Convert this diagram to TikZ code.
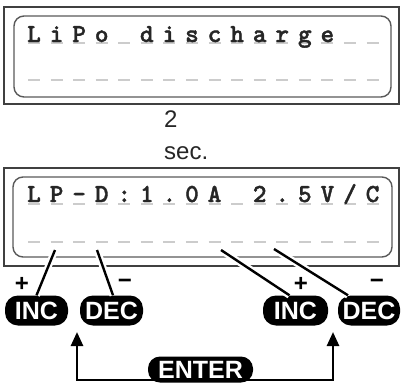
\documentclass[tikz,border=0pt]{standalone}
\usepackage{fontspec}
\setmainfont{Liberation Sans}
\newfontfamily\lcdfont{lmmonolt10-bold.otf}[FakeBold=1.5]
\newfontfamily\btnfont{Liberation Sans Bold}
\usetikzlibrary{arrows.meta}
\begin{document}
\begin{tikzpicture}[x=1pt,y=-1pt,
  frame/.style={draw=black!75, line width=1.1pt},
  lcd/.style={draw=black!65, line width=1.4pt, rounded corners=10pt},
  cell/.style={draw=black!20, line width=1.3pt},
  ch/.style={anchor=base, inner sep=0pt, font=\lcdfont\fontsize{26}{26}\selectfont, text=black!85},
  pill/.style={fill=black, rounded corners=13pt, text=white, font=\btnfont\fontsize{25}{25}\selectfont, minimum height=30pt, inner sep=0pt},
  sign/.style={font=\btnfont\fontsize{24}{24}\selectfont, inner sep=0pt},
  plain/.style={font=\fontsize{24}{24}\selectfont, inner sep=0pt, anchor=base west, text=black!85},
  conn/.style={line width=2.4pt},
  halo/.style={white, line width=7pt},
  arr/.style={line width=2.6pt, -{Triangle[length=14pt,width=12pt]}}
]
\useasboundingbox (0,0) rectangle (401,383);

% panel 1
\draw[frame] (4,7) rectangle (399,104);
\draw[lcd] (14,16) rectangle (391,97);
\foreach \k in {0,...,15} {
  \draw[cell] ({28+22.57*\k},43) -- ++(12,0);
  \draw[cell] ({28+22.57*\k},80) -- ++(12,0);
}
\foreach \c [count=\i from 0] in {L,i,P,o,{},d,i,s,c,h,a,r,g,e,{},{}} {
  \node[ch] (a\i) at ({34+22.57*\i},42) {\c};
}

% 2 sec.
\node[plain] (two) at (164,127) {2};
\node[plain] (sec) at (164,159) {sec.};

% panel 2
\draw[frame] (4,168) rectangle (399,266);
\draw[lcd] (13,177) rectangle (392,257);
\foreach \k in {0,...,15} {
  \draw[cell] ({28+22.57*\k},204) -- ++(12,0);
  \draw[cell] ({28+22.57*\k},242) -- ++(12,0);
}
\foreach \c [count=\i from 0] in {L,P,-,D,:,1,.,0,A,{},2,.,5,V,/,C} {
  \node[ch] (b\i) at ({34+22.57*\i},202) {\c};
}

% buttons
\node[pill, minimum width=63pt] (incL) at (36.5,310.5) {INC};
\node[pill, minimum width=63pt] (decL) at (111.5,310.5) {DEC};
\node[pill, minimum width=65pt] (incR) at (295.5,310.5) {INC};
\node[pill, minimum width=62pt] (decR) at (369,310.5) {DEC};

\node[sign] (pL) at (22,284) {+};
\node[sign] (mL) at (125,284) {−};
\node[sign] (pR) at (301,284) {+};
\node[sign] (mR) at (377,284) {−};

% connectors
\coordinate (l1) at (55,250);
\coordinate (l2) at (97,250);
\coordinate (l3) at (221,250);
\coordinate (l4) at (274,249);
\draw[halo] (l1) -- (incL.north);
\draw[halo] (l2) -- ([xshift=1.5pt]decL.north);
\draw[halo] (l3) -- ([xshift=-6pt]incR.north);
\draw[halo] (l4) -- ([xshift=-21pt]decR.north);
\draw[conn] (l1) -- (incL.north);
\draw[conn] (l2) -- ([xshift=1.5pt]decL.north);
\draw[conn] (l3) -- ([xshift=-6pt]incR.north);
\draw[conn] (l4) -- ([xshift=-21pt]decR.north);

% enter arrows
\coordinate (aL) at (77,332);
\coordinate (aR) at (333,332);
\coordinate (bM) at (200.5,380);
\draw[arr] (bM) -| (aL);
\draw[arr] (bM) -| (aR);
\node[pill, minimum width=105pt, minimum height=26pt, rounded corners=12pt] (enter) at (200.5,369.5) {ENTER};
\end{tikzpicture}
\end{document}
